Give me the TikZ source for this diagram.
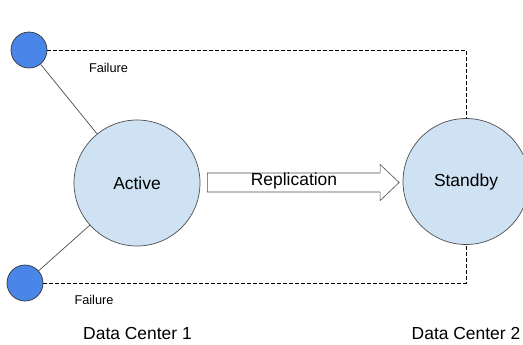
\documentclass[tikz,border=0pt]{standalone}
\usepackage{fontspec}
\setmainfont{Liberation Sans}
\usetikzlibrary{calc}

\definecolor{dcfill}{HTML}{CFE2F3}
\definecolor{nodeblue}{HTML}{4A86E8}
\definecolor{edgegray}{HTML}{4D4D4D}

\tikzset{
  dcnode/.style={circle, draw=edgegray, fill=dcfill, minimum size=126bp, inner sep=0pt, font=\fontsize{17.5}{20}\selectfont},
  clientnode/.style={circle, draw=black!80, fill=nodeblue, minimum size=36bp, inner sep=0pt},
  faillink/.style={draw=black, dash pattern=on 3.5bp off 2.5bp, line width=0.6bp},
  smalltext/.style={font=\fontsize{12.8}{15}\selectfont},
  sitetext/.style={font=\fontsize{17.5}{20}\selectfont}
}

\begin{document}
\begin{tikzpicture}[x=1bp, y=-1bp, line width=0.7bp]
\useasboundingbox (0,0) rectangle (523,344);

% the two sites
\node[dcnode] (active) at (137,183) {Active};
\node[dcnode] (standby) at (466,181.5) {Standby};

% clients
\node[clientnode] (clienta) at (29,50) {};
\node[clientnode] (clientb) at (25,283) {};

\draw[edgegray] (clienta) -- (active);
\draw[edgegray] (clientb) -- (active);

% failover paths
\draw[faillink] (clienta.east) -| (standby.north);
\draw[faillink] (clientb.east) -| (standby.south);

\node[smalltext] (faila) at (108.5,67.5) {Failure};
\node[smalltext] (failb) at (94,300) {Failure};

% replication arrow
\coordinate (rs) at ($(active.east)+(7,-0.5)$);
\coordinate (re) at ($(standby.west)+(-3.5,1)$);
\draw[edgegray, fill=white, line width=0.6bp]
  ($(rs)+(0,-9.5)$) -- ($(re)+(-19,-9.5)$) -- ($(re)+(-19,-18)$) -- (re)
  -- ($(re)+(-19,18)$) -- ($(re)+(-19,9.5)$) -- ($(rs)+(0,9.5)$) -- cycle;
\node[sitetext] (repl) at (294,181) {Replication};

% site labels
\node[sitetext] (site1) at (137.5,333) {Data Center 1};
\node[sitetext] (site2) at (466,333) {Data Center 2};

\end{tikzpicture}
\end{document}
